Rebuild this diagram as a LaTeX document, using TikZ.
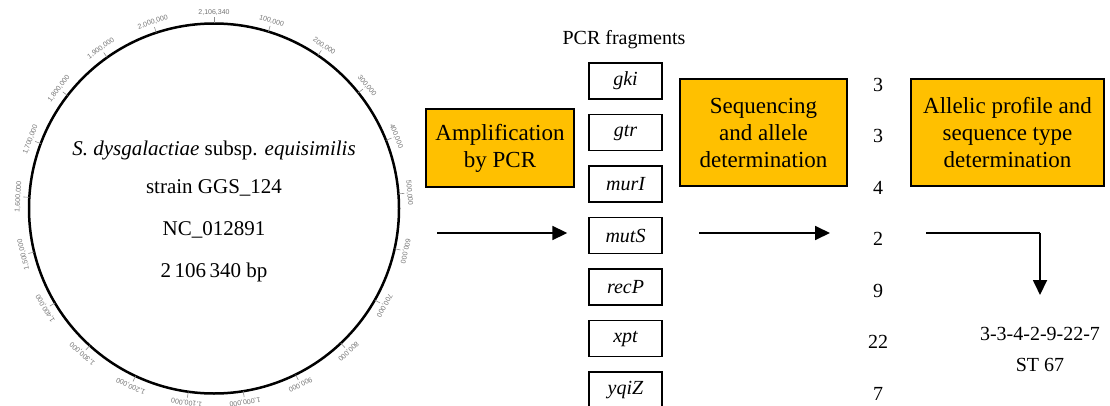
\documentclass[tikz,border=0pt]{standalone}
\usepackage{fontspec}
\setmainfont{Liberation Serif}
\newfontfamily\ticksans{Liberation Sans}
\usepackage{tikz}
\usetikzlibrary{arrows.meta, positioning, calc}
\definecolor{amplorange}{HTML}{FFC000}

\begin{document}
\begin{tikzpicture}[x=1pt, y=1pt,
    stepbox/.style={rectangle, draw=black, line width=1.3pt, fill=amplorange, align=center, font=\fontsize{23}{27}\selectfont, inner sep=2pt},
    gene/.style={rectangle, draw=black, line width=1.4pt, fill=white, minimum width=73pt, minimum height=36pt, font=\fontsize{20}{24}\selectfont\itshape},
    allele/.style={font=\fontsize{20}{24}\selectfont, inner sep=0pt},
    genomelab/.style={font=\fontsize{21}{25}\selectfont},
    ticklab/.style={font=\ticksans\fontsize{7}{8}\selectfont, text=black!55, inner sep=0pt},
    flow/.style={-{Triangle[length=15pt, width=14pt]}, line width=1.8pt}
]

\useasboundingbox (0,0) rectangle (1110,405);

% Genome map
\node[circle, draw=black, line width=2.5pt, minimum size=370pt, inner sep=0pt] (genome) at (214,196.5) {};
\foreach \p/\lab in {0/{2,106,340}, 1/{100,000}, 2/{200,000}, 3/{300,000}, 4/{400,000},
    5/{500,000}, 6/{600,000}, 7/{700,000}, 8/{800,000}, 9/{900,000}, 10/{1,000,000},
    11/{1,100,000}, 12/{1,200,000}, 13/{1,300,000}, 14/{1,400,000}, 15/{1,500,000},
    16/{1,600,000}, 17/{1,700,000}, 18/{1,800,000}, 19/{1,900,000}, 20/{2,000,000}} {
  \pgfmathsetmacro\ang{90-\p*17.09126}
  \draw[black!45, line width=0.6pt] ($(genome.center)+(\ang:185)$) -- ($(genome.center)+(\ang:191)$);
  \node[ticklab, rotate=\ang-90] (tick\p) at ($(genome.center)+(\ang:196)$) {\lab};
}
\node[genomelab] (species) at (214,255) {\textit{S. dysgalactiae} subsp. \textit{equisimilis}};
\node[genomelab] (strain) at (214,217) {strain GGS\_124};
\node[genomelab] (accession) at (214,175) {NC\_012891};
\node[genomelab] (gsize) at (214,133) {2\,106\,340 bp};

% Steps
\node[stepbox, minimum width=148pt, minimum height=78pt] (amplify) at (500,257) {Amplification\\by PCR};
\node[stepbox, minimum width=167pt, minimum height=107pt] (sequence) at (763.5,272.5) {Sequencing\\and allele\\determination};
\node[stepbox, minimum width=193pt, minimum height=107pt] (profile) at (1007.5,272.5) {Allelic profile and\\sequence type\\determination};

% PCR fragments and allele numbers
\node[allele] (fraglab) at (624,365) {PCR fragments};
\foreach \g/\n [count=\i from 0] in {gki/3, gtr/3, murI/4, mutS/2, recP/9, xpt/22, yqiZ/7} {
  \node[gene] (\g) at (625.5,324-51.5*\i) {\g};
  \node[allele] (num-\g) at ($(\g)+(252.5,-3.5)$) {\n};
}

\node[allele, align=center, font=\fontsize{20}{31}\selectfont, anchor=north] (result) at (1040,78) {3-3-4-2-9-22-7\\ST 67};

% Arrows
\coordinate (pcr-in) at (437,172);
\coordinate (seq-in) at (699,172);
\coordinate (st-in) at (926,172);
\draw[flow, shorten >=21pt] (pcr-in) -- (pcr-in -| mutS.west);
\draw[flow] (seq-in) -- ++(131,0);
\draw[line width=1.2pt] (st-in) -- (st-in -| result.north);
\draw[flow, shorten >=32pt] (st-in -| result.north) -- (result.north);

\end{tikzpicture}
\end{document}
